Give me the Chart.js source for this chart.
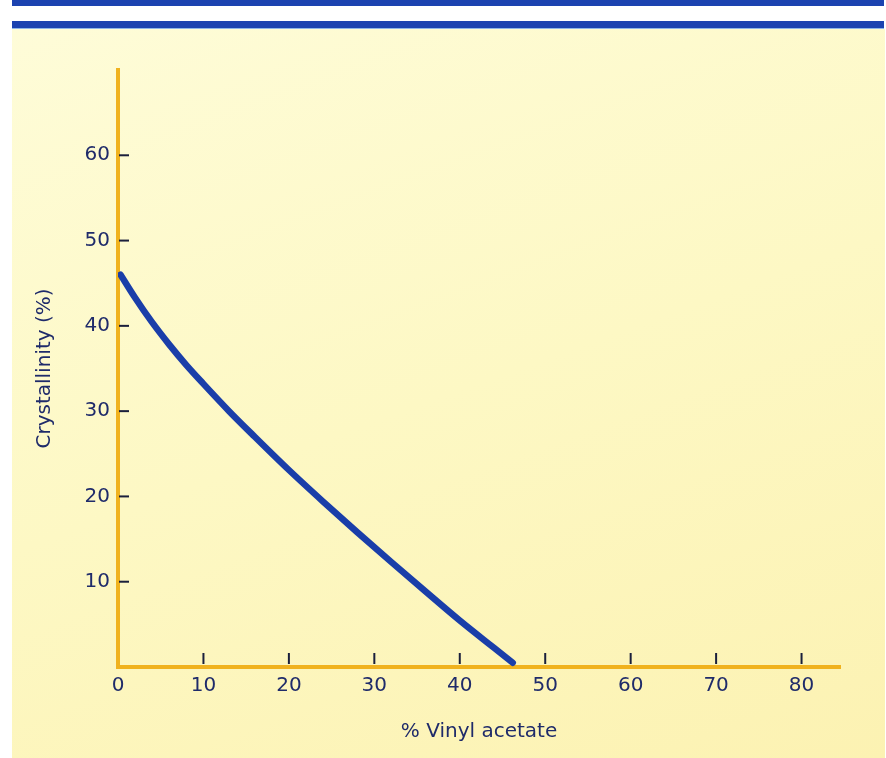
<!DOCTYPE html>
<html>
<head>
<meta charset="utf-8">
<script src="https://cdn.jsdelivr.net/npm/chart.js@4.4.1/dist/chart.umd.min.js"></script>
<style>
  html, body { margin: 0; padding: 0; background: #fff; }
  body { width: 886px; height: 758px; position: relative; overflow: hidden; }
  .band-top { position: absolute; left: 12px; top: 0; width: 872px; height: 6px; background: #1c43b0; }
  .band-low { position: absolute; left: 12px; top: 21px; width: 872px; height: 7px; background: #1c43b0; border-bottom: 1px solid #8fb6e8; }
  .panel { position: absolute; left: 12px; top: 29px; width: 873px; height: 729px;
           background: linear-gradient(160deg, #fefcd8 0%, #fdf8c4 50%, #fcf2b2 100%); }
  #wrap { position: absolute; left: 0; top: 0; width: 886px; height: 758px; }
</style>
</head>
<body>
<div class="band-top"></div>
<div class="band-low"></div>
<div class="panel"></div>
<div id="wrap"><canvas id="chart" width="886" height="758"></canvas></div>
<script>
// Crystallinity vs vinyl acetate content
const vinylAcetate = [0.3, 2, 4, 6, 8, 10, 13, 16, 20, 24, 28, 32, 36, 40, 44, 46.2];
const crystallinity = [46, 43.3, 40.4, 37.8, 35.4, 33.2, 30.0, 27.0, 23.1, 19.4, 15.8, 12.3, 8.85, 5.45, 2.25, 0.5];

const xTicks = [0, 10, 20, 30, 40, 50, 60, 70, 80];
const yTicks = [10, 20, 30, 40, 50, 60];

const navy = '#1f2b6a';
const axisGold = '#f0b21e';
const labelFont = { family: 'DejaVu Sans', size: 20 };

// short tick marks drawn inside the plot, like the print
const innerTicks = {
    id: 'innerTicks',
    afterDatasetsDraw(chart) {
        const { ctx, chartArea, scales } = chart;
        ctx.save();
        ctx.strokeStyle = '#1a1f3c';
        ctx.lineWidth = 2;
        yTicks.forEach(v => {
            const y = scales.y.getPixelForValue(v);
            ctx.beginPath();
            ctx.moveTo(chartArea.left + 1, y);
            ctx.lineTo(chartArea.left + 11, y);
            ctx.stroke();
        });
        xTicks.filter(v => v > 0).forEach(v => {
            const x = scales.x.getPixelForValue(v);
            ctx.beginPath();
            ctx.moveTo(x, chartArea.bottom - 14);
            ctx.lineTo(x, chartArea.bottom - 3);
            ctx.stroke();
        });
        ctx.restore();
    }
};

new Chart(document.getElementById('chart'), {
    type: 'line',
    data: {
        datasets: [{
            data: vinylAcetate.map((x, i) => ({ x: x, y: crystallinity[i] })),
            borderColor: '#1a3ea9',
            borderWidth: 6.5,
            borderCapStyle: 'round',
            pointRadius: 0,
            cubicInterpolationMode: 'monotone',
            fill: false
        }]
    },
    options: {
        responsive: false,
        animation: false,
        devicePixelRatio: 1,
        layout: { padding: { left: 0, top: 70, right: 46, bottom: 0 } },
        plugins: { legend: { display: false }, tooltip: { enabled: false } },
        scales: {
            x: {
                type: 'linear',
                min: 0,
                max: 84.5,
                afterFit: s => { s.height = 91; },
                afterBuildTicks: s => { s.ticks = xTicks.map(v => ({ value: v })); },
                grid: { display: false, drawTicks: false },
                border: { display: true, color: axisGold, width: 4 },
                ticks: { color: navy, padding: 7, maxRotation: 0, font: labelFont },
                title: {
                    display: true, text: '% Vinyl acetate', color: navy,
                    font: labelFont,
                    padding: { top: 0, bottom: 14 }
                }
            },
            y: {
                min: 0,
                max: 70,
                afterFit: s => { s.width = 118; },
                afterBuildTicks: s => { s.ticks = yTicks.map(v => ({ value: v })); },
                grid: { display: false, drawTicks: false },
                border: { display: true, color: axisGold, width: 4 },
                ticks: { color: navy, padding: 8, font: labelFont },
                title: {
                    display: true, text: 'Crystallinity (%)', color: navy,
                    font: labelFont,
                    padding: { top: 33, bottom: 0 }
                }
            }
        }
    },
    plugins: [innerTicks]
});
</script>
</body>
</html>
